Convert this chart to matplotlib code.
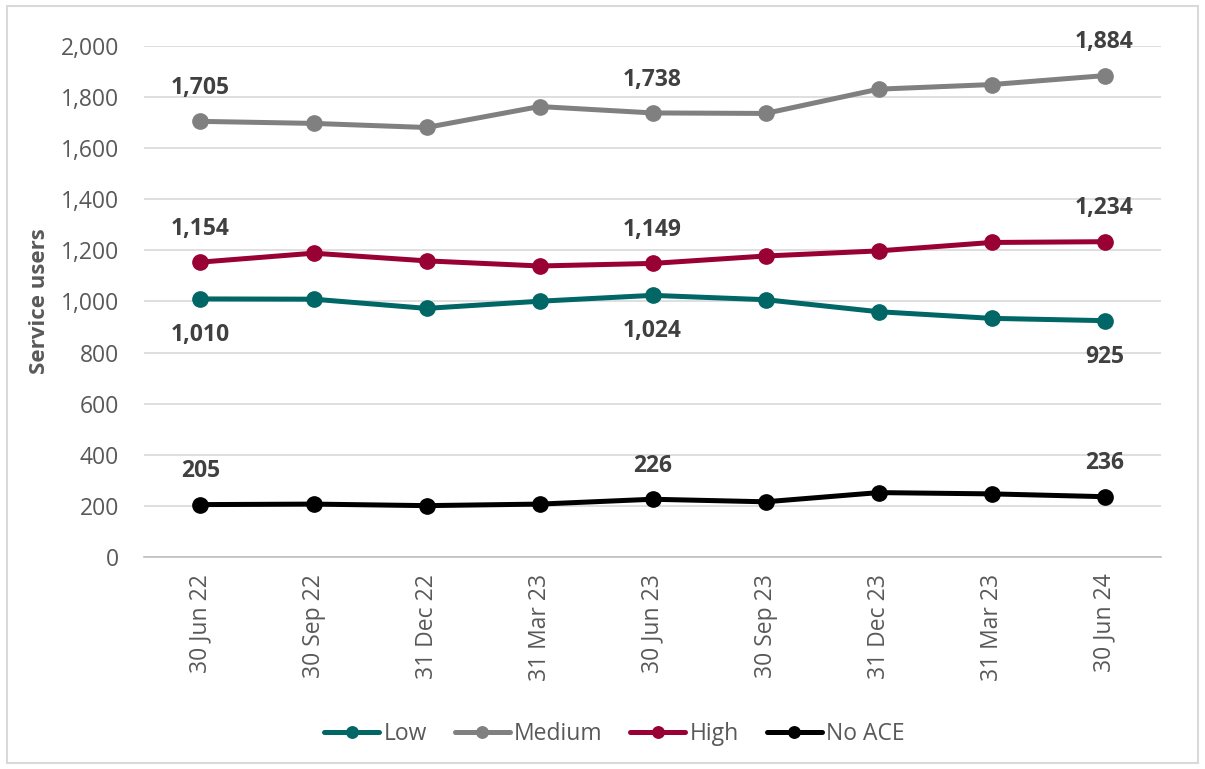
import matplotlib.pyplot as plt
from matplotlib.patches import Rectangle
from matplotlib.ticker import FuncFormatter, MultipleLocator

# quarter-end dates
dates = ["30 Jun 22", "30 Sep 22", "31 Dec 22", "31 Mar 23", "30 Jun 23",
         "30 Sep 23", "31 Dec 23", "31 Mar 23", "30 Jun 24"]

low    = [1010, 1009, 973, 1001, 1024, 1007, 960, 934, 925]
medium = [1705, 1697, 1681, 1763, 1738, 1736, 1831, 1849, 1884]
high   = [1154, 1189, 1159, 1139, 1149, 1178, 1198, 1231, 1234]
no_ace = [205, 207, 201, 207, 226, 216, 252, 247, 236]

labelled = [0, 4, 8]   # points that carry a data label

series = [
    ("Low",    low,    "#006666", "below"),
    ("Medium", medium, "#808080", "above"),
    ("High",   high,   "#990033", "above"),
    ("No ACE", no_ace, "#000000", "above"),
]

plt.rcParams["font.family"] = ["Open Sans", "DejaVu Sans"]

fig = plt.figure(figsize=(12.05, 7.69), dpi=100)
ax = fig.add_axes([0.1195, 0.2757, 0.8440, 0.6645])

x = range(len(dates))
for name, vals, col, side in series:
    ax.plot(x, vals, color=col, lw=3.6, marker="o", ms=11, label=name,
            solid_capstyle="round", zorder=3)
    for i in labelled:
        dy = 24 if side == "above" else -26
        ax.annotate(f"{vals[i]:,}", (i, vals[i]), xytext=(0, dy),
                    textcoords="offset points", ha="center", va="center",
                    fontsize=16.5, fontweight="bold", color="#404040")

ax.set_xlim(-0.5, len(dates) - 0.5)
ax.set_ylim(0, 2000)
ax.yaxis.set_major_locator(MultipleLocator(200))
ax.yaxis.set_major_formatter(FuncFormatter(lambda v, p: f"{int(v):,}"))
ax.set_xticks(list(x))
ax.set_xticklabels(dates, rotation=90)

ax.grid(axis="y", color="#d9d9d9", lw=1.2)
ax.set_axisbelow(True)
for s in ["left", "right", "top"]:
    ax.spines[s].set_visible(False)
ax.spines["bottom"].set_color("#bfbfbf")
ax.spines["bottom"].set_linewidth(1.2)
ax.tick_params(axis="both", length=0, labelsize=16.5, colors="#595959")
ax.tick_params(axis="y", pad=18)
ax.tick_params(axis="x", pad=12)

ax.set_ylabel("Service users", fontsize=16, fontweight="bold",
              color="#595959", labelpad=8)

fig.legend(loc="center", bbox_to_anchor=(0.51, 0.045), ncol=4, frameon=False,
           fontsize=16.5, handlelength=2.4, handletextpad=0.2, columnspacing=1.2,
           labelcolor="#595959", markerscale=0.75)

fig.patches.append(Rectangle((0.006, 0.008), 0.988, 0.984, transform=fig.transFigure,
                             fill=False, edgecolor="#d9d9d9", lw=1.5))

fig.savefig("out.png", dpi=100)
